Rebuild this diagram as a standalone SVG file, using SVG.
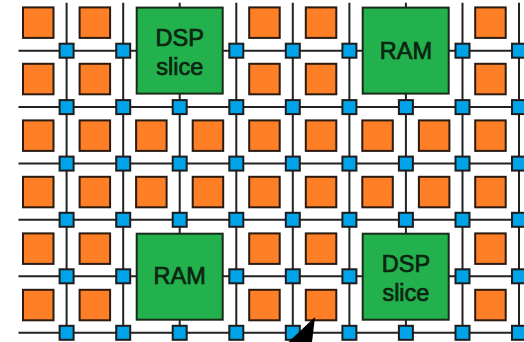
<svg xmlns="http://www.w3.org/2000/svg" width="524" height="342" viewBox="0 0 524 342">
<style>
.w{stroke:#222;stroke-width:2;fill:none}
.o{fill:#ff7f27;stroke:#2a1a10;stroke-width:2}
.b{fill:#00a2e8;stroke:#1c1c1c;stroke-width:2}
.g{fill:#22b14c;stroke:#1a2a1a;stroke-width:2}
text{font-family:"Liberation Sans",Arial,sans-serif;font-size:23.5px;fill:#0c2412;stroke:#0c2412;stroke-width:.7;text-anchor:middle}
</style>
<rect width="524" height="342" fill="#fff"/>
<g id="connectors">
<path class="w" d="M18.5 50.7H524M18.5 107.1H524M18.5 163.6H524M18.5 219.8H524M18.5 276.3H524M18.5 332.8H524"/>
<path class="w" d="M66.6 2.7V333M123.2 2.7V333M179.7 2.7V333M236.3 2.7V333M292.8 2.7V333M349.4 2.7V333M405.9 2.7V333M462.5 2.7V333M519 2.7V333"/>
</g>
<g id="logic-blocks">
<g id="o00"><rect class="o" x="23" y="7.4" width="30.5" height="30.5"/></g>
<g id="o01"><rect class="o" x="79.6" y="7.4" width="30.5" height="30.5"/></g>
<g id="o04"><rect class="o" x="249.2" y="7.4" width="30.5" height="30.5"/></g>
<g id="o05"><rect class="o" x="305.8" y="7.4" width="30.5" height="30.5"/></g>
<g id="o08"><rect class="o" x="475.2" y="7.4" width="30.5" height="30.5"/></g>
<g id="o10"><rect class="o" x="23" y="63.8" width="30.5" height="30.5"/></g>
<g id="o11"><rect class="o" x="79.6" y="63.8" width="30.5" height="30.5"/></g>
<g id="o14"><rect class="o" x="249.2" y="63.8" width="30.5" height="30.5"/></g>
<g id="o15"><rect class="o" x="305.8" y="63.8" width="30.5" height="30.5"/></g>
<g id="o18"><rect class="o" x="475.2" y="63.8" width="30.5" height="30.5"/></g>
<g id="o20"><rect class="o" x="23" y="120.4" width="30.5" height="30.5"/></g>
<g id="o21"><rect class="o" x="79.6" y="120.4" width="30.5" height="30.5"/></g>
<g id="o22"><rect class="o" x="136.1" y="120.4" width="30.5" height="30.5"/></g>
<g id="o23"><rect class="o" x="192.7" y="120.4" width="30.5" height="30.5"/></g>
<g id="o24"><rect class="o" x="249.2" y="120.4" width="30.5" height="30.5"/></g>
<g id="o25"><rect class="o" x="305.8" y="120.4" width="30.5" height="30.5"/></g>
<g id="o26"><rect class="o" x="362.3" y="120.4" width="30.5" height="30.5"/></g>
<g id="o27"><rect class="o" x="418.9" y="120.4" width="30.5" height="30.5"/></g>
<g id="o28"><rect class="o" x="475.2" y="120.4" width="30.5" height="30.5"/></g>
<g id="o30"><rect class="o" x="23" y="176.8" width="30.5" height="30.5"/></g>
<g id="o31"><rect class="o" x="79.6" y="176.8" width="30.5" height="30.5"/></g>
<g id="o32"><rect class="o" x="136.1" y="176.8" width="30.5" height="30.5"/></g>
<g id="o33"><rect class="o" x="192.7" y="176.8" width="30.5" height="30.5"/></g>
<g id="o34"><rect class="o" x="249.2" y="176.8" width="30.5" height="30.5"/></g>
<g id="o35"><rect class="o" x="305.8" y="176.8" width="30.5" height="30.5"/></g>
<g id="o36"><rect class="o" x="362.3" y="176.8" width="30.5" height="30.5"/></g>
<g id="o37"><rect class="o" x="418.9" y="176.8" width="30.5" height="30.5"/></g>
<g id="o38"><rect class="o" x="475.2" y="176.8" width="30.5" height="30.5"/></g>
<g id="o40"><rect class="o" x="23" y="233.4" width="30.5" height="30.5"/></g>
<g id="o41"><rect class="o" x="79.6" y="233.4" width="30.5" height="30.5"/></g>
<g id="o44"><rect class="o" x="249.2" y="233.4" width="30.5" height="30.5"/></g>
<g id="o45"><rect class="o" x="305.8" y="233.4" width="30.5" height="30.5"/></g>
<g id="o48"><rect class="o" x="475.2" y="233.4" width="30.5" height="30.5"/></g>
<g id="o50"><rect class="o" x="23" y="289.8" width="30.5" height="30.5"/></g>
<g id="o51"><rect class="o" x="79.6" y="289.8" width="30.5" height="30.5"/></g>
<g id="o54"><rect class="o" x="249.2" y="289.8" width="30.5" height="30.5"/></g>
<g id="o55"><rect class="o" x="305.8" y="289.8" width="30.5" height="30.5"/></g>
<g id="o58"><rect class="o" x="475.2" y="289.8" width="30.5" height="30.5"/></g>
</g>
<g id="switches">
<g id="b00"><rect class="b" x="59.6" y="43.7" width="14" height="14"/></g>
<g id="b01"><rect class="b" x="116.2" y="43.7" width="14" height="14"/></g>
<g id="b03"><rect class="b" x="229.3" y="43.7" width="14" height="14"/></g>
<g id="b04"><rect class="b" x="285.8" y="43.7" width="14" height="14"/></g>
<g id="b05"><rect class="b" x="342.4" y="43.7" width="14" height="14"/></g>
<g id="b07"><rect class="b" x="455.5" y="43.7" width="14" height="14"/></g>
<g id="b08"><rect class="b" x="512" y="43.7" width="14" height="14"/></g>
<g id="b10"><rect class="b" x="59.6" y="100.1" width="14" height="14"/></g>
<g id="b11"><rect class="b" x="116.2" y="100.1" width="14" height="14"/></g>
<g id="b12"><rect class="b" x="172.7" y="100.1" width="14" height="14"/></g>
<g id="b13"><rect class="b" x="229.3" y="100.1" width="14" height="14"/></g>
<g id="b14"><rect class="b" x="285.8" y="100.1" width="14" height="14"/></g>
<g id="b15"><rect class="b" x="342.4" y="100.1" width="14" height="14"/></g>
<g id="b16"><rect class="b" x="398.9" y="100.1" width="14" height="14"/></g>
<g id="b17"><rect class="b" x="455.5" y="100.1" width="14" height="14"/></g>
<g id="b18"><rect class="b" x="512" y="100.1" width="14" height="14"/></g>
<g id="b20"><rect class="b" x="59.6" y="156.6" width="14" height="14"/></g>
<g id="b21"><rect class="b" x="116.2" y="156.6" width="14" height="14"/></g>
<g id="b22"><rect class="b" x="172.7" y="156.6" width="14" height="14"/></g>
<g id="b23"><rect class="b" x="229.3" y="156.6" width="14" height="14"/></g>
<g id="b24"><rect class="b" x="285.8" y="156.6" width="14" height="14"/></g>
<g id="b25"><rect class="b" x="342.4" y="156.6" width="14" height="14"/></g>
<g id="b26"><rect class="b" x="398.9" y="156.6" width="14" height="14"/></g>
<g id="b27"><rect class="b" x="455.5" y="156.6" width="14" height="14"/></g>
<g id="b28"><rect class="b" x="512" y="156.6" width="14" height="14"/></g>
<g id="b30"><rect class="b" x="59.6" y="212.8" width="14" height="14"/></g>
<g id="b31"><rect class="b" x="116.2" y="212.8" width="14" height="14"/></g>
<g id="b32"><rect class="b" x="172.7" y="212.8" width="14" height="14"/></g>
<g id="b33"><rect class="b" x="229.3" y="212.8" width="14" height="14"/></g>
<g id="b34"><rect class="b" x="285.8" y="212.8" width="14" height="14"/></g>
<g id="b35"><rect class="b" x="342.4" y="212.8" width="14" height="14"/></g>
<g id="b36"><rect class="b" x="398.9" y="212.8" width="14" height="14"/></g>
<g id="b37"><rect class="b" x="455.5" y="212.8" width="14" height="14"/></g>
<g id="b38"><rect class="b" x="512" y="212.8" width="14" height="14"/></g>
<g id="b40"><rect class="b" x="59.6" y="269.3" width="14" height="14"/></g>
<g id="b41"><rect class="b" x="116.2" y="269.3" width="14" height="14"/></g>
<g id="b43"><rect class="b" x="229.3" y="269.3" width="14" height="14"/></g>
<g id="b44"><rect class="b" x="285.8" y="269.3" width="14" height="14"/></g>
<g id="b45"><rect class="b" x="342.4" y="269.3" width="14" height="14"/></g>
<g id="b47"><rect class="b" x="455.5" y="269.3" width="14" height="14"/></g>
<g id="b48"><rect class="b" x="512" y="269.3" width="14" height="14"/></g>
<g id="b50"><rect class="b" x="59.6" y="325.8" width="14" height="14"/></g>
<g id="b51"><rect class="b" x="116.2" y="325.8" width="14" height="14"/></g>
<g id="b52"><rect class="b" x="172.7" y="325.8" width="14" height="14"/></g>
<g id="b53"><rect class="b" x="229.3" y="325.8" width="14" height="14"/></g>
<g id="b54"><rect class="b" x="285.8" y="325.8" width="14" height="14"/></g>
<g id="b55"><rect class="b" x="342.4" y="325.8" width="14" height="14"/></g>
<g id="b56"><rect class="b" x="398.9" y="325.8" width="14" height="14"/></g>
<g id="b57"><rect class="b" x="455.5" y="325.8" width="14" height="14"/></g>
<g id="b58"><rect class="b" x="512" y="325.8" width="14" height="14"/></g>
</g>
<g id="dsp-top"><rect class="g" x="136.7" y="7.6" width="86" height="86"/><text x="179.7" y="46">DSP</text><text x="179.7" y="75">slice</text></g>
<g id="ram-top"><rect class="g" x="362.7" y="7.6" width="86" height="86"/><text x="405.9" y="58.5">RAM</text></g>
<g id="ram-bottom"><rect class="g" x="136.7" y="233.7" width="86" height="86"/><text x="179.7" y="284.3">RAM</text></g>
<g id="dsp-bottom"><rect class="g" x="362.7" y="233.7" width="86" height="86"/><text x="405.9" y="272">DSP</text><text x="405.9" y="301">slice</text></g>
<polygon id="arrowhead" points="315,317 288.5,342 312,342" fill="#000"/>
</svg>
